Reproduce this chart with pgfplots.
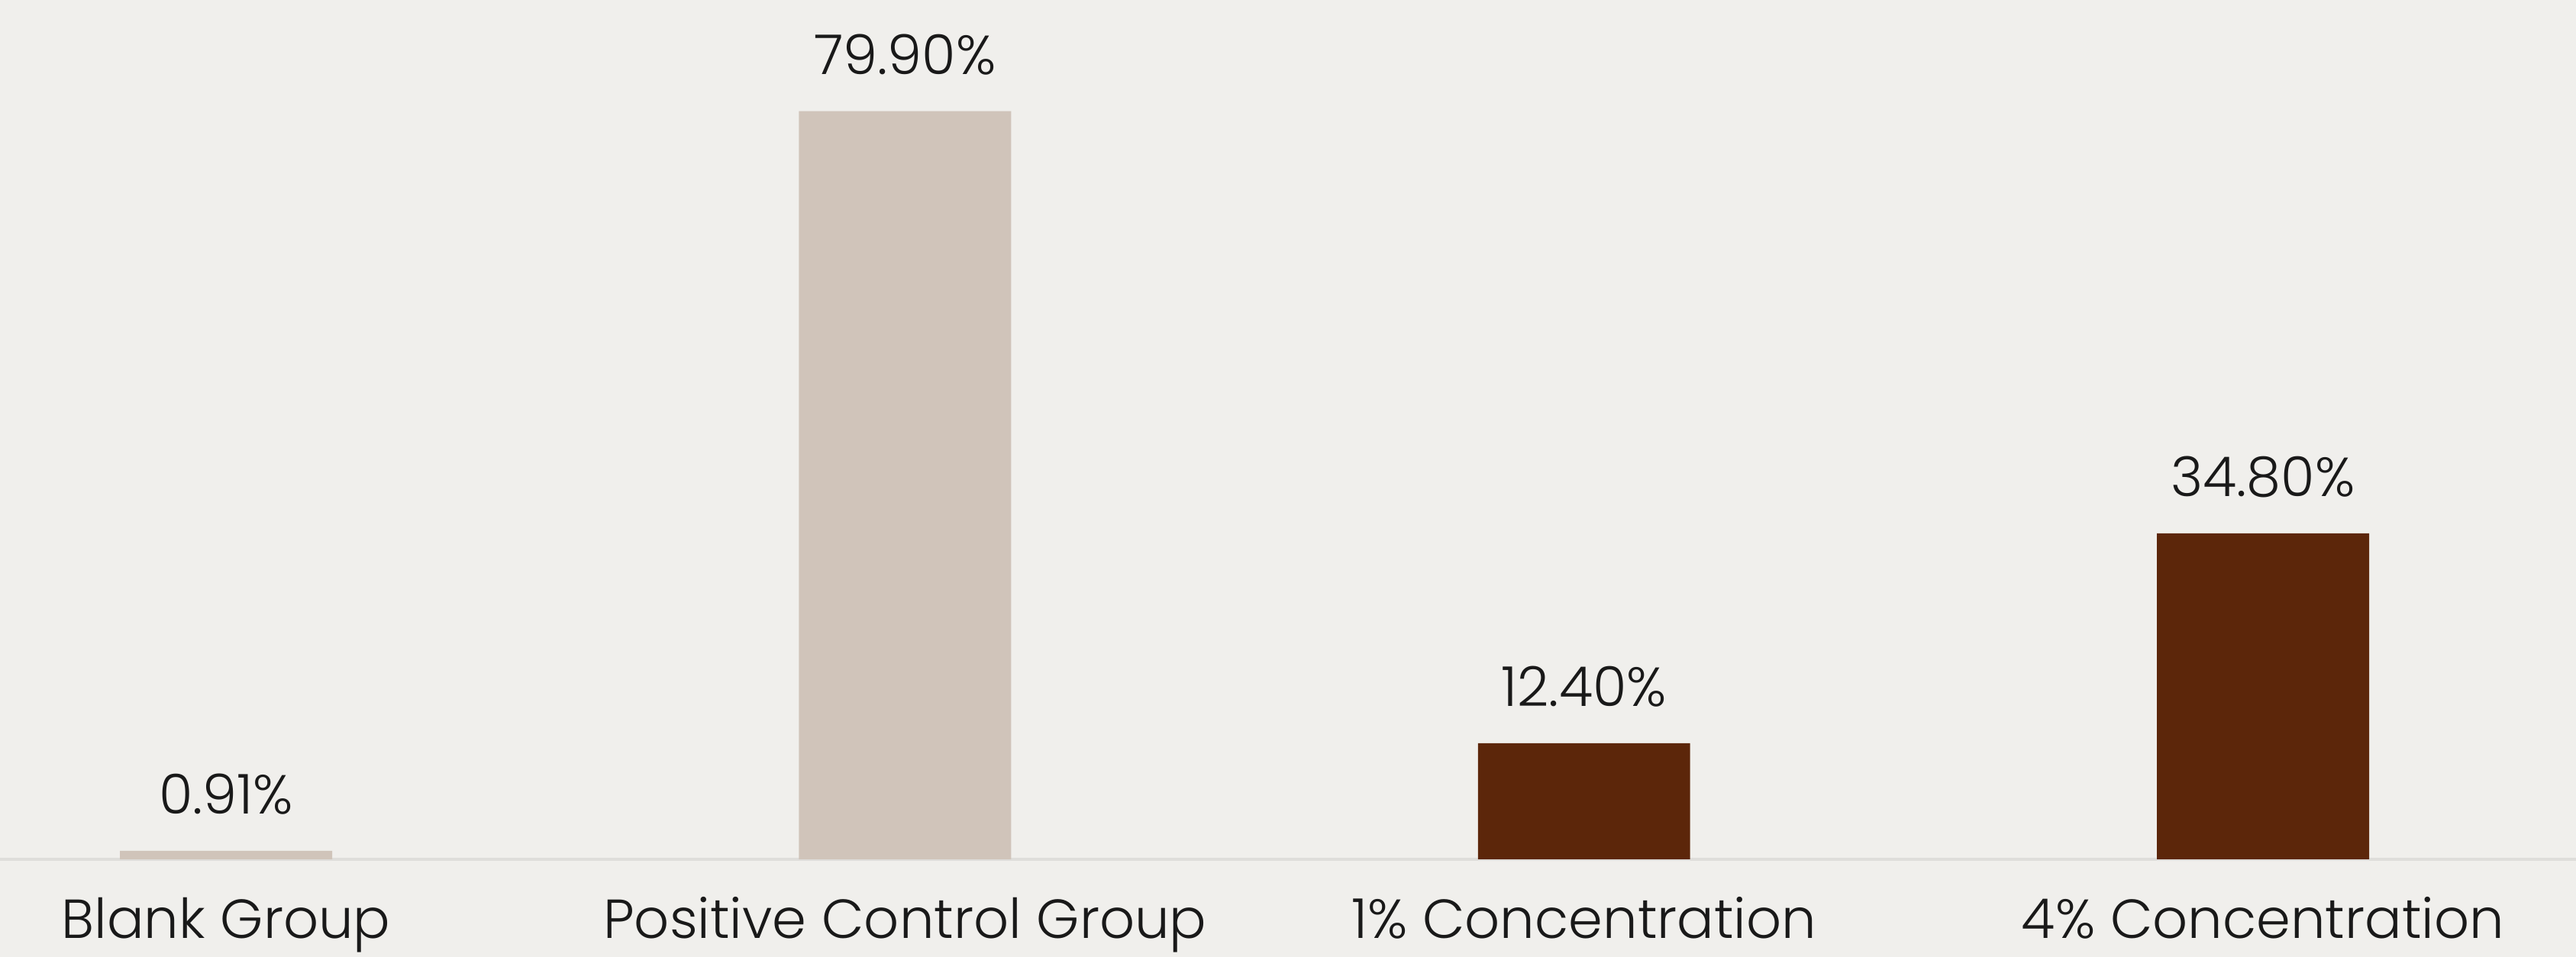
\documentclass[border=0pt]{standalone}
\usepackage{pgfplots}
\pgfplotsset{compat=1.18}
\usepackage{fontspec}
\setmainfont{Poppins}[UprightFont=* Light]
\definecolor{bgc}{RGB}{240,239,236}
\definecolor{lightbar}{RGB}{208,196,186}
\definecolor{darkbar}{RGB}{92,38,10}
\definecolor{basec}{RGB}{222,221,218}
\definecolor{txt}{RGB}{25,25,25}
\begin{document}
\begin{tikzpicture}
\begin{axis}[
  scale only axis,
  width=843.5pt, height=313.5pt,
  xmin=-0.333, xmax=3.461,
  ymin=-10.43, ymax=91.77,
  axis line style={draw=none},
  axis background/.style={fill=bgc},
  major tick length=0pt,
  ytick=\empty,
  extra y ticks={0},
  extra y tick labels={},
  extra y tick style={grid=major, major grid style={color=basec, line width=1pt}},
  xtick={0,1,2,3},
  xticklabels={Blank Group, Positive Control Group, 1\% Concentration, 4\% Concentration},
  xticklabel style={anchor=base, inner sep=0pt, yshift=6pt, font=\fontsize{18}{20}\selectfont, text=txt},
  ybar, bar width=0.3125, bar shift=0pt,
  /pgf/number format/assume math mode=true,
  nodes near coords={\pgfmathprintnumber[fixed, fixed zerofill, precision=2, assume math mode=true]{\pgfplotspointmeta}\%},
  every node near coord/.append style={anchor=base, yshift=12pt, font=\fontsize{18}{20}\selectfont, text=txt},
  clip=false,
]
\addplot[fill=lightbar, draw=none] coordinates {(0,0.91) (1,79.9)};
\addplot[fill=darkbar, draw=none] coordinates {(2,12.4) (3,34.8)};
\end{axis}
\pgfresetboundingbox
\path[use as bounding box] (current axis.south west) rectangle (current axis.north east);
\end{tikzpicture}
\end{document}
